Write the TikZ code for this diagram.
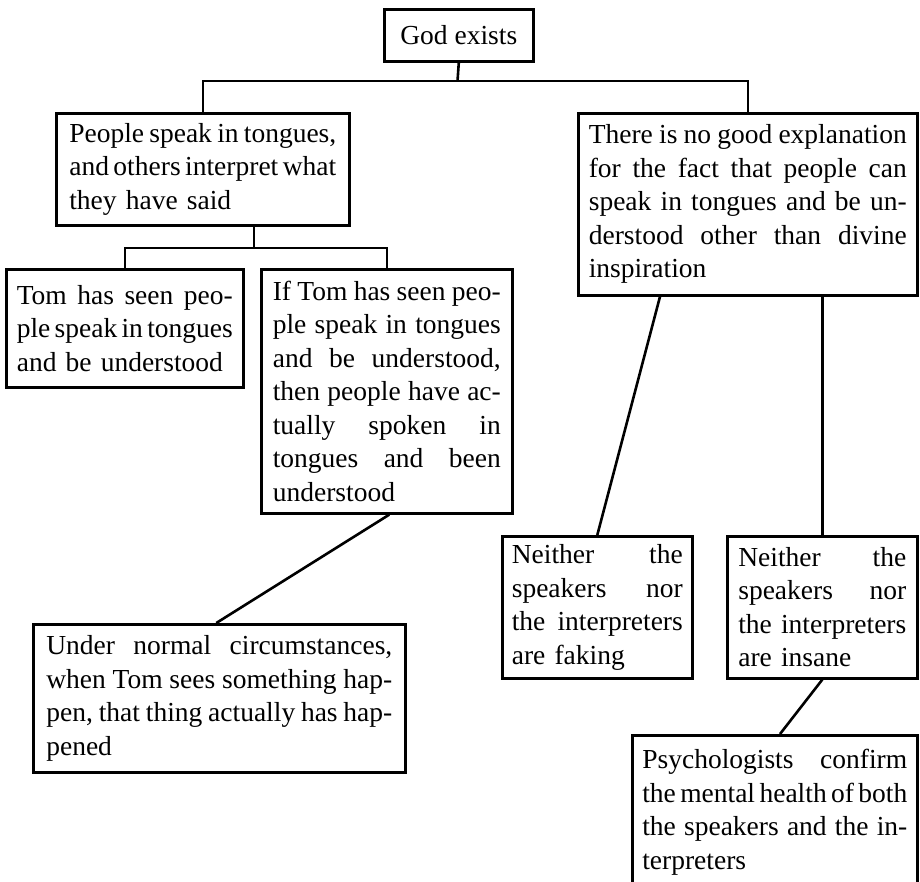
\documentclass[tikz,border=0pt]{standalone}
\usepackage{fontspec}
\setmainfont{Liberation Serif}
\newdimen\jw
\newcommand{\jline}[1]{\leavevmode\hbox to \jw{\spaceskip 0.25em plus 1fil minus 0.2em\relax #1}}
\begin{document}
\begin{tikzpicture}[x=1pt,y=-1pt,
    claim/.style={draw, line width=2.6pt, inner sep=0pt, anchor=north west,
        align=left, font={\fontsize{27.5}{33.5}\selectfont}},
    wide/.style={text width=#1, execute at begin node={\setlength{\jw}{#1}}},
    link/.style={line width=2.6pt}]
        \useasboundingbox (0,0) rectangle (920,881);
        \clip (0,0) rectangle (920,881);
        % top claim
        \node[claim, minimum width=149pt, minimum height=52pt] (god) at (383,8) {God exists};
        % first level
        \node[claim, wide=267pt, minimum width=293pt, minimum height=112pt] (people) at (55,112)
            {\jline{People speak in tongues,}\\\jline{and others interpret what}\\they have said};
        \node[claim, wide=318pt, minimum width=339pt, minimum height=182pt] (expl) at (577,112)
            {\jline{There is no good explanation}\\\jline{for the fact that people can}\\\jline{speak in tongues and be un-}\\\jline{derstood other than divine}\\inspiration};
        % under people
        \node[claim, wide=216pt, minimum width=237pt, minimum height=118pt] (tom) at (5,268)
            {\jline{Tom has seen peo-}\\\jline{ple speak in tongues}\\and be understood};
        \node[claim, wide=228pt, minimum width=251pt, minimum height=244pt] (iftom) at (260,268)
            {\jline{If Tom has seen peo-}\\\jline{ple speak in tongues}\\\jline{and be understood,}\\\jline{then people have ac-}\\\jline{tually spoken in}\\\jline{tongues and been}\\understood};
        \node[claim, wide=346pt, minimum width=372pt, minimum height=148pt] (normal) at (32,623)
            {\jline{Under normal circumstances,}\\\jline{when Tom sees something hap-}\\\jline{pen, that thing actually has hap-}\\pened};
        % under expl
        \node[claim, wide=171pt, minimum width=190pt, minimum height=142pt] (faking) at (501,535)
            {\jline{Neither the}\\\jline{speakers nor}\\\jline{the interpreters}\\are faking};
        \node[claim, wide=168pt, minimum width=190pt, minimum height=142pt] (insane) at (726,535)
            {\jline{Neither the}\\\jline{speakers nor}\\\jline{the interpreters}\\are insane};
        \node[claim, wide=265pt, minimum width=285pt, minimum height=154pt] (psych) at (631,734)
            {\jline{Psychologists confirm}\\\jline{the mental health of both}\\\jline{the speakers and the in-}\\terpreters};
        % connectors
        \coordinate (j1) at (457.5,81);
        \coordinate (j2) at (254,248);
        \draw[link] (god.south) -- (j1);
        \draw[link] (people.north) |- (j1) -| (expl.north);
        \draw[link] (people.south -| j2) -- (j2);
        \draw[link] (tom.north) |- (j2) -| (iftom.north);
        \draw[link] ([xshift=2.5pt]iftom.south) -- ([xshift=-3pt]normal.north);
        \draw[link] ([xshift=83pt]expl.south west) -- (faking.north);
        \draw[link] (insane.north) -- (insane.north |- expl.south);
        \draw[link] (insane.south) -- ([xshift=149pt]psych.north west);
\end{tikzpicture}
\end{document}
